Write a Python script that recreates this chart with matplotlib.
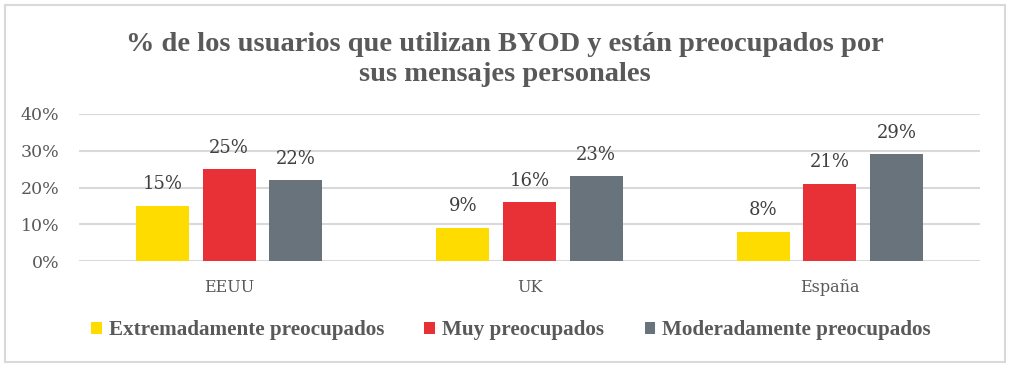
import matplotlib
matplotlib.use("Agg")
import matplotlib.pyplot as plt
from matplotlib.patches import Rectangle
import numpy as np

categories = ["EEUU", "UK", "España"]
series_names = ["Extremadamente preocupados", "Muy preocupados", "Moderadamente preocupados"]
extremadamente = [15, 9, 8]
muy = [25, 16, 21]
moderadamente = [22, 23, 29]
yticks = [0, 10, 20, 30, 40]
title = "% de los usuarios que utilizan BYOD y están preocupados por\nsus mensajes personales"

colors = ["#FFDC00", "#E83137", "#68737C"]
series = [extremadamente, muy, moderadamente]

fig = plt.figure(figsize=(10.1, 3.67), dpi=100)
fig.patches.append(Rectangle((5/1010, 5/367), 1000/1010, 357/367, transform=fig.transFigure,
                             fill=False, edgecolor="#d9d9d9", linewidth=1.5))

ax = fig.add_axes([79/1010, (367-261)/367, 901/1010, 147/367])
x = np.arange(len(categories))
offsets = [-0.222, 0.0, 0.222]
width = 0.177
serif = ["DejaVu Serif"]
for vals, off, c, name in zip(series, offsets, colors, series_names):
    bars = ax.bar(x + off, vals, width, color=c, label=name, zorder=3)
    for b, v in zip(bars, vals):
        ax.annotate(f"{v}%", (b.get_x() + b.get_width()/2, v), xytext=(0, 9),
                    textcoords="offset points", ha="center", va="bottom",
                    fontsize=13, color="#404040", family=serif)

ax.set_xlim(-0.5, 2.5)
ax.set_ylim(0, 40)
ax.set_yticks(yticks)
ax.set_yticklabels([f"{t}%" for t in yticks], family=serif, fontsize=12.5, color="#595959")
ax.set_xticks(x)
ax.set_xticklabels(categories, family=serif, fontsize=11.5, color="#595959")
ax.tick_params(axis="both", length=0)
ax.tick_params(axis="x", pad=13)
ax.tick_params(axis="y", pad=14)
ax.grid(axis="y", color="#d9d9d9", linewidth=1.5, zorder=0)
for s in ax.spines.values():
    s.set_visible(False)

fig.text(0.5, 0.838, title, ha="center", va="center", fontsize=20.5, fontweight="bold",
         family=["Liberation Serif"], color="#595959", linespacing=1.25)

leg = fig.legend(loc="center", bbox_to_anchor=(0.506, 0.10), ncol=3, frameon=False,
                 prop={"family": "Liberation Serif", "weight": "bold", "size": 15.2},
                 handlelength=0.5, handleheight=0.5, handletextpad=0.35, columnspacing=1.9)
for t in leg.get_texts():
    t.set_color("#595959")

fig.savefig("out.png", dpi=100)
